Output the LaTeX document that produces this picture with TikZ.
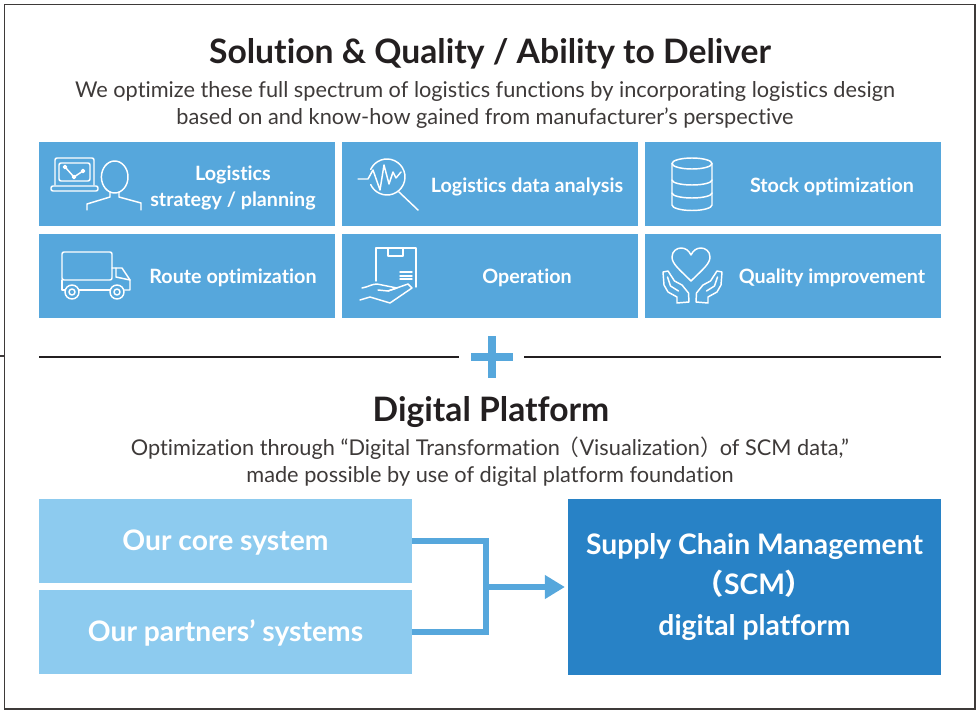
\documentclass[tikz,border=0pt]{standalone}
\usepackage{fontspec}
\setmainfont{Lato}[Ligatures=NoCommon]
\newfontfamily\cjk{Noto Sans CJK JP}
\usetikzlibrary{arrows.meta}
\definecolor{cellblue}{HTML}{56A7DC}
\definecolor{lightblue}{HTML}{8DCBEF}
\definecolor{deepblue}{HTML}{2882C6}
\definecolor{inkdark}{HTML}{231F20}
\definecolor{inkgrey}{HTML}{3E3A39}
\tikzset{
  cell/.style={fill=cellblue, minimum width=222pt, minimum height=63pt, inner sep=0pt},
  celltext/.style={text=white, align=center, font=\fontsize{14.8}{19.5}\selectfont\bfseries},
  sysbox/.style={fill=lightblue, minimum width=280pt, minimum height=63pt, inner sep=0pt, text=white, text height=17.5pt, font=\fontsize{21.2}{24}\selectfont\bfseries},
  scmbox/.style={fill=deepblue, minimum width=280pt, minimum height=132pt, inner sep=0pt, text=white, align=center, font=\fontsize{21.2}{30.5}\selectfont\bfseries},
  headline/.style={text=inkdark, font=\fontsize{25.25}{30}\selectfont\bfseries},
  subline/.style={text=inkgrey, align=center, font=\fontsize{16.3}{20.3}\selectfont},
  icon/.style={draw=white, line width=1.1pt, line join=round, line cap=round},
  link/.style={draw=cellblue, line width=5.2pt}
}
\begin{document}
\begin{tikzpicture}[x=.75pt,y=-.75pt]
  \useasboundingbox (0,0) rectangle (979,710);
  \draw[inkgrey, line width=1pt] (4.5,4.5) rectangle (975,709);
  \draw[inkgrey, line width=1pt] (0,356) -- (4.5,356);

  \node[headline] (title) at (490,54) {Solution \& Quality / Ability to Deliver};
  \node[subline] (intro) at (485,105) {We optimize these full spectrum of logistics functions by incorporating logistics design\\based on and know-how gained from manufacturer’s perspective};

  \node[cell] (strategy) at (187,184) {};
  \node[cell] (analysis) at (490,184) {};
  \node[cell] (stock) at (793,184) {};
  \node[cell] (route) at (187,276) {};
  \node[cell] (operation) at (490,276) {};
  \node[cell] (quality) at (793,276) {};
  \node[celltext] (strategytext) at (233,188) {Logistics\\strategy / planning};
  \node[celltext] (analysistext) at (527,187) {Logistics data analysis};
  \node[celltext] (stocktext) at (832,187) {Stock optimization};
  \node[celltext] (routetext) at (233,278) {Route optimization};
  \node[celltext] (operationtext) at (527,278) {Operation};
  \node[celltext] (qualitytext) at (832,278) {Quality improvement};

  % laptop and person
  \draw[icon, rounded corners=1.5pt] (55,185) -- (55,158) -- (94,158) -- (94,185);
  \draw[icon, rounded corners=1.5pt] (59,163) rectangle (90,181);
  \draw[icon, rounded corners=1.5pt] (51,186) rectangle (98,191);
  \draw[icon] (65,167) -- (74,177) -- (83,171);
  \draw[icon, fill=white] (65,167) circle (1.5) (74,177) circle (1.5) (83,171) circle (1.5);
  \draw[icon] (114.7,177) ellipse (13.3 and 16);
  \draw[icon] (110,192) -- (110,197) -- (87,204) -- (87,210);
  \draw[icon] (119,192) -- (119,197) -- (141,203) -- (141,210);

  % magnifier
  \draw[icon] (387,177) ++(205:18) arc (205:515:18);
  \draw[icon] (358,179) -- (368,179) -- (373,170) -- (380,190) -- (384,165) -- (389,184) -- (393,172) -- (396,178) -- (401,172);
  \draw[icon] (399,192) -- (418,210);

  % database
  \draw[icon] (692,163.5) ellipse (20 and 5.5);
  \draw[icon] (672,163.5) -- (672,205) arc (180:0:20 and 5.5) -- (712,163.5);
  \draw[icon] (672,180) arc (180:0:20 and 5);
  \draw[icon] (672,193) arc (180:0:20 and 5);

  % truck
  \draw[icon, rounded corners=1.5pt] (62,252) rectangle (112,280);
  \draw[icon] (62,280) -- (62,290) -- (65,290);
  \draw[icon] (79,290) -- (110,290);
  \draw[icon] (124,290) -- (130,290) -- (130,280) -- (122,268) -- (112,268);
  \draw[icon] (116,268) -- (116,277) -- (130,280);
  \draw[icon] (72,292) circle (7) (72,292) circle (3);
  \draw[icon] (117,292) circle (7) (117,292) circle (3);

  % parcel on a hand
  \draw[icon] (376,281) -- (376,248) -- (416,248) -- (416,287);
  \draw[icon] (388,248) -- (388,256) -- (403,256) -- (403,248);
  \draw[icon] (400,272) -- (412,272) (400,276) -- (412,276) (400,279) -- (412,279);
  \draw[icon] (362,288) .. controls (368,287) and (372,284) .. (377,284) -- (397,288) -- (388,291) -- (378,290);
  \draw[icon] (388,291) -- (408,284) -- (412,288) -- (390,303) -- (370,297) -- (360,300);

  % heart on two hands
  \draw[icon] (691,281) .. controls (680,270) and (672,264) .. (672,257) .. controls (672,251) and (677,248) .. (681,248) .. controls (686,248) and (689,251) .. (691,255) .. controls (693,251) and (696,248) .. (701,248) .. controls (705,248) and (710,251) .. (710,257) .. controls (710,264) and (702,270) .. (691,281);
  \foreach \s in {1,-1}
    \draw[icon, shift={(692.5,0)}, xscale=\s] (-29.5,272) -- (-28.5,285) -- (-24.5,292) -- (-15.5,297) -- (-15.5,303) -- (-3.5,302) -- (-4,293) -- (-10.5,285) -- (-18,281) -- (-24.5,271) -- (-29.5,272) (-25,277) -- (-22,286) -- (-14,291);

  \draw[inkdark, line width=1pt] (39,357) -- (459,357);
  \draw[inkdark, line width=1pt] (524,357) -- (941,357);
  \draw[cellblue, line width=6pt] (492,336) -- (492,378);
  \draw[cellblue, line width=6pt] (471,357) -- (513,357);

  \node[headline] (platform) at (491,412) {Digital Platform};
  \node[subline] (platformintro) at (490,462) {Optimization through “Digital Transformation\hspace{-1.5pt}{\cjk（}Visualization{\cjk）}\hspace{-1.5pt}of SCM data,”\\made possible by use of digital platform foundation};

  \node[sysbox] (core) at (225.5,541) {Our core system};
  \node[sysbox] (partners) at (225.5,632) {Our partners’ systems};
  \node[scmbox] (scm) at (754.5,587) {Supply Chain Management\\{\cjk（}SCM{\cjk）}\\digital platform};

  \coordinate (merge) at (486,587);
  \draw[link] (core.east) -| (merge) |- (partners.east);
  \draw[link, -{Triangle[length=15pt,width=17pt]}, shorten >=2pt] (merge) -- (scm.west);
\end{tikzpicture}
\end{document}
